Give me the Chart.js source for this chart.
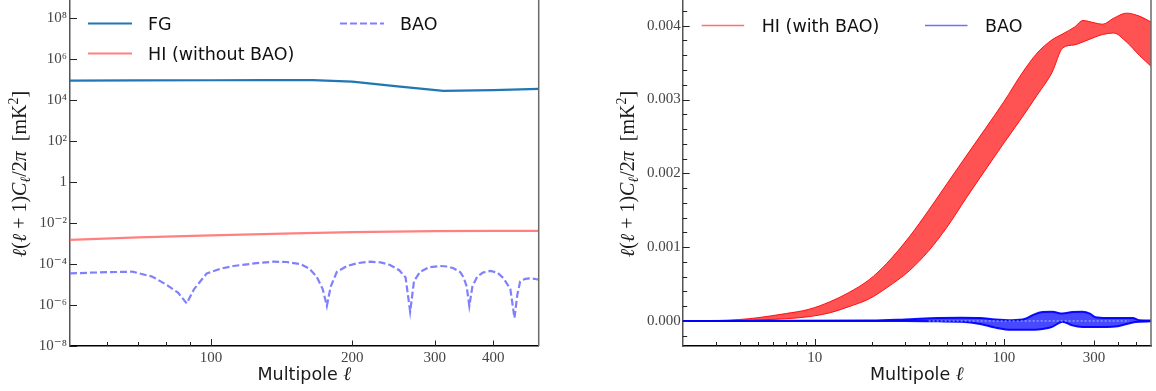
<!DOCTYPE html>
<html lang="en">
<head>
<meta charset="UTF-8">
<title>Foreground, HI and BAO angular power spectra</title>
<style>
  body { margin: 0; background: #fff; overflow: hidden; }
  canvas { position: absolute; top: 0; }
  #left { left: 0; }
  #right { left: 580px; }
</style>
</head>
<body>
<canvas id="left" width="560" height="391"></canvas>
<canvas id="right" width="576" height="391"></canvas>

<script src="https://cdn.jsdelivr.net/npm/chart.js"></script>
<script>
// ---- left panel: spectra on log-log axes ----
const fgEll  = [50, 70, 100, 130, 165, 200, 250, 313, 400, 500];
const fgVals = [8.8e4, 9.0e4, 9.2e4, 9.3e4, 9.4e4, 7.8e4, 4.6e4, 2.8e4, 3.0e4, 3.5e4];

const hiEll  = [50, 70, 100, 150, 200, 300, 400, 500];
const hiVals = [1.5e-3, 2.0e-3, 2.5e-3, 3.1e-3, 3.6e-3, 4.0e-3, 4.1e-3, 4.1e-3];

const baoEll = [50, 60, 68, 75, 80.4, 85, 88.7, 92, 97.9, 105, 111.6, 125, 135.8, 145, 155, 162, 168, 173,
  176.6, 180, 185.5, 195, 205, 218.5, 230, 240.9, 252, 260, 265.9, 271, 279.4, 292, 308, 320, 329, 340,
  345.8, 351, 355.6, 361, 369.6, 380, 394.4, 408, 420.8, 435, 443.9, 450, 456.5, 468, 479, 490, 500];
const baoVals = [3.5e-5, 4.0e-5, 4.2e-5, 2.4e-5, 9.5e-6, 4e-6, 1.2e-6, 6e-6, 3.5e-5, 6e-5, 8e-5, 1.1e-4, 1.3e-4,
  1.25e-4, 1.0e-4, 6e-5, 2.4e-5, 6e-6, 9e-7, 8e-6, 4.2e-5, 8e-5, 1.1e-4, 1.3e-4, 1.2e-4, 9e-5, 5e-5, 2.2e-5,
  4.7e-7, 1.5e-5, 4.2e-5, 7e-5, 8e-5, 7.5e-5, 6.2e-5, 4e-5, 2.2e-5, 8e-6, 9e-7, 8e-6, 2.4e-5, 3.8e-5, 4.6e-5,
  3.8e-5, 2e-5, 6e-6, 2.3e-7, 3e-6, 1.4e-5, 1.9e-5, 2e-5, 1.9e-5, 1.7e-5];

const leftYTicks  = [1e-8, 1e-6, 1e-4, 1e-2, 1, 1e2, 1e4, 1e6, 1e8];
const leftYLabels = ['10⁻⁸', '10⁻⁶', '10⁻⁴', '10⁻²', '1', '10²', '10⁴', '10⁶', '10⁸'];
const leftXTicks  = [100, 200, 300, 400];
const leftXLabels = ['100', '200', '300', '400'];
const leftXMinor  = [60, 70, 80, 90];

// ---- right panel: bands of spectra, linear y ----
const redEll   = [2, 3, 4, 5, 7, 9.3, 12, 15, 19.4, 24, 31.6, 40, 50, 63, 80, 100, 125, 150, 180, 205,
  236, 262, 300, 333, 380, 445, 520, 600];
const redUpper = [0, 0.000005, 0.00002, 0.000045, 0.0001, 0.000158, 0.00026, 0.00038, 0.00056, 0.00078,
  0.00114, 0.0015, 0.00186, 0.00223, 0.00261, 0.00297, 0.00336, 0.00363, 0.00381, 0.00389, 0.00398,
  0.00407, 0.00404, 0.00402, 0.0041, 0.00417, 0.00413, 0.00405];
const redLower = [0, 0, 0.000005, 0.000014, 0.00003, 0.000058, 0.00011, 0.00019, 0.0003, 0.00045,
  0.00068, 0.00095, 0.00127, 0.00166, 0.00205, 0.00241, 0.00276, 0.00306, 0.00337, 0.0037, 0.00374,
  0.00378, 0.00384, 0.00388, 0.0039, 0.00378, 0.0036, 0.00345];

const blueEll   = [2, 20, 30, 45, 60, 75, 90, 110, 130, 145, 160, 180, 204, 230, 260, 285, 305, 350, 400,
  480, 520, 600];
const blueUpper = [0, 0.000005, 0.00002, 0.00004, 0.000045, 0.00004, 0.00002, 0.00001, 0.00003, 0.00009,
  0.00012, 0.000125, 0.0001, 0.00012, 0.000125, 0.0001, 0.00005, 0.00004, 0.00004, 0.00004, 0.00001, 0.000005];
const blueLower = [0, 0, 0, -0.000005, -0.00001, -0.00004, -0.00009, -0.00012, -0.00012, -0.00012,
  -0.00011, -0.00008, -0.00001, -0.00006, -0.00008, -0.00008, -0.00008, -0.00008, -0.00007, -0.00002,
  -0.00001, -0.000005];

const zeroEll  = [40, 460];
const zeroVals = [0, 0];

const rightXTicks  = [10, 100, 300];
const rightXLabels = ['10', '100', '300'];
const rightXMinor  = [3, 4, 5, 6, 7, 8, 9, 20, 30, 40, 50, 60, 70, 80, 90, 200, 400, 500];
const rightYTicks  = [0, 0.001, 0.002, 0.003, 0.004];
const rightYLabels = ['0.000', '0.001', '0.002', '0.003', '0.004'];
const rightYMinor  = [-0.0002, 0.0002, 0.0004, 0.0006, 0.0008, 0.0012, 0.0014, 0.0016, 0.0018,
  0.0022, 0.0024, 0.0026, 0.0028, 0.0032, 0.0034, 0.0036, 0.0038, 0.0042];

const SERIF = '"Liberation Serif", "DejaVu Serif", serif';
const SANS = '"DejaVu Sans", sans-serif';

const pts = (xs, ys) => xs.map((x, i) => ({ x: x, y: ys[i] }));

// draws a run of text pieces (mixed fonts, sub/superscripts) centred on (cx, cy)
function drawRuns(ctx, runs, cx, cy, vertical) {
  ctx.save();
  ctx.translate(cx, cy);
  if (vertical) ctx.rotate(-Math.PI / 2);
  let total = 0;
  for (const r of runs) { ctx.font = r.f; r.w = ctx.measureText(r.t).width; total += r.w; }
  let x = -total / 2;
  ctx.fillStyle = '#1a1a1a';
  ctx.textBaseline = 'alphabetic';
  for (const r of runs) { ctx.font = r.f; ctx.fillText(r.t, x, r.dy || 0); x += r.w; }
  ctx.restore();
}

const xTitleRuns = [
  { t: 'Multipole ', f: '17.5px ' + SANS },
  { t: 'ℓ', f: 'italic 19px ' + SERIF }
];
const yTitleRuns = [
  { t: 'ℓ', f: 'italic 20px ' + SERIF },
  { t: '(', f: '20px ' + SERIF },
  { t: 'ℓ', f: 'italic 20px ' + SERIF },
  { t: ' + 1)', f: '20px ' + SERIF },
  { t: 'C', f: 'italic 20px ' + SERIF },
  { t: 'ℓ', f: 'italic 14px ' + SERIF, dy: 4 },
  { t: '/2', f: '20px ' + SERIF },
  { t: 'π', f: 'italic 20px ' + SERIF },
  { t: '  [mK', f: '20px ' + SERIF },
  { t: '2', f: '14px ' + SERIF, dy: -8 },
  { t: ']', f: '20px ' + SERIF }
];

// inward tick marks, right spine and axis titles
function makeDecor(xMarks, yMarks, xTitleY, yTitleX) {
  return {
    id: 'axisDecor',
    afterDraw(chart) {
      const { ctx, chartArea: a, scales } = chart;
      ctx.save();
      ctx.strokeStyle = '#222';
      ctx.lineWidth = 1;
      ctx.beginPath();
      for (const [vals, len] of xMarks) for (const v of vals) {
        const px = Math.round(scales.x.getPixelForValue(v)) + 0.5;
        ctx.moveTo(px, a.bottom);
        ctx.lineTo(px, a.bottom - len);
      }
      for (const [vals, len] of yMarks) for (const v of vals) {
        const py = Math.round(scales.y.getPixelForValue(v)) + 0.5;
        ctx.moveTo(a.left, py);
        ctx.lineTo(a.left + len, py);
      }
      ctx.stroke();
      ctx.strokeStyle = '#6a6a6a';
      ctx.lineWidth = 1.5;
      ctx.beginPath();
      ctx.moveTo(a.right, a.top);
      ctx.lineTo(a.right, a.bottom);
      ctx.stroke();
      ctx.restore();
      drawRuns(ctx, xTitleRuns, (a.left + a.right) / 2, xTitleY, false);
      drawRuns(ctx, yTitleRuns, yTitleX, (a.top + a.bottom) / 2 + 1, true);
    }
  };
}

// legend entries placed at fixed spots inside the plot
function makeLegend(items, sample, gap) {
  return {
    id: 'panelLegend',
    afterDraw(chart) {
      const ctx = chart.ctx;
      ctx.save();
      for (const it of items) {
        const ds = chart.data.datasets[it.index];
        ctx.strokeStyle = it.color || ds.borderColor;
        ctx.lineWidth = it.width || ds.borderWidth;
        ctx.setLineDash(ds.borderDash || []);
        ctx.beginPath();
        ctx.moveTo(it.x, it.y);
        ctx.lineTo(it.x + sample, it.y);
        ctx.stroke();
        ctx.setLineDash([]);
        ctx.font = '17.5px ' + SANS;
        ctx.fillStyle = '#111';
        ctx.textBaseline = 'alphabetic';
        ctx.fillText(ds.label, it.x + sample + gap, it.y + 6.5);
      }
      ctx.restore();
    }
  };
}

function axis(type, min, max, ticks, labels, fitKey, fitSize, borderColor, pad) {
  return {
    type: type, min: min, max: max, bounds: 'data',
    afterBuildTicks: s => { s.ticks = ticks.map(v => ({ value: v })); },
    afterFit: s => {
      s[fitKey] = fitSize;
      s.paddingTop = 0; s.paddingBottom = 0; s.paddingLeft = 0; s.paddingRight = 0;
    },
    border: { display: true, color: borderColor, width: 1.5 },
    grid: { drawOnChartArea: false, drawTicks: false },
    ticks: {
      autoSkip: false, maxRotation: 0, padding: pad, color: '#444',
      font: { family: SERIF, size: 15 },
      callback: (v, i) => labels[i]
    }
  };
}

const common = {
  responsive: false,
  animation: false,
  devicePixelRatio: 1,
  elements: { point: { radius: 0 } },
  events: []
};

new Chart(document.getElementById('left'), {
  type: 'line',
  data: {
    datasets: [
      { label: 'FG', data: pts(fgEll, fgVals), borderColor: '#1f77b4', borderWidth: 2.2, tension: 0 },
      { label: 'HI (without BAO)', data: pts(hiEll, hiVals), borderColor: '#ff8080', borderWidth: 2.2, tension: 0 },
      { label: 'BAO', data: pts(baoEll, baoVals), borderColor: '#8080ff', borderWidth: 2.2,
        borderDash: [7, 3], tension: 0 }
    ]
  },
  options: Object.assign({}, common, {
    layout: { padding: { left: 0, right: 21.3, top: 0, bottom: 0 } },
    scales: {
      x: axis('logarithmic', 50, 500, leftXTicks, leftXLabels, 'height', 45, '#000', 3),
      y: axis('logarithmic', 1e-8, 7.55e8, leftYTicks, leftYLabels, 'width', 70, '#555', 3)
    },
    plugins: { legend: { display: false }, tooltip: { enabled: false } }
  }),
  plugins: [
    makeDecor([[[100], 7], [[200, 300, 400], 5.5], [leftXMinor, 4]], [[leftYTicks, 7]], 380, 26),
    makeLegend([{ index: 0, x: 88, y: 23.5 }, { index: 1, x: 88, y: 53.5 }, { index: 2, x: 340, y: 23.5 }], 44, 16)
  ]
});

new Chart(document.getElementById('right'), {
  type: 'line',
  data: {
    datasets: [
      { label: 'HI (with BAO)', data: pts(redEll, redUpper), borderColor: 'rgba(255,0,0,0.9)',
        borderWidth: 1, cubicInterpolationMode: 'monotone', fill: false, order: 2 },
      { label: 'HI lower', data: pts(redEll, redLower), borderColor: 'rgba(255,0,0,0.9)',
        borderWidth: 1, cubicInterpolationMode: 'monotone', fill: '-1',
        backgroundColor: 'rgba(255,45,45,0.82)', order: 2 },
      { label: 'BAO', data: pts(blueEll, blueUpper), borderColor: 'rgba(0,0,255,0.95)',
        borderWidth: 2, cubicInterpolationMode: 'monotone', fill: false, order: 1 },
      { label: 'BAO lower', data: pts(blueEll, blueLower), borderColor: 'rgba(0,0,255,0.95)',
        borderWidth: 2, cubicInterpolationMode: 'monotone', fill: '-1',
        backgroundColor: 'rgba(20,20,255,0.78)', order: 1 },
      { label: 'zero', data: pts(zeroEll, zeroVals), borderColor: 'rgba(170,215,240,0.9)',
        borderWidth: 1, borderDash: [2, 2], fill: false, order: 0 }
    ]
  },
  options: Object.assign({}, common, {
    layout: { padding: { left: 0, right: 5, top: 0, bottom: 0 } },
    scales: {
      x: axis('logarithmic', 2, 600, rightXTicks, rightXLabels, 'height', 45, '#000', 3),
      y: axis('linear', -0.000339, 0.004348, rightYTicks, rightYLabels, 'width', 102.7, '#555', 2)
    },
    plugins: { legend: { display: false }, tooltip: { enabled: false } }
  }),
  plugins: [
    makeDecor([[[10, 100], 7], [[300], 5.5], [rightXMinor, 4]], [[rightYTicks, 7], [rightYMinor, 4.5]], 380, 54),
    makeLegend([{ index: 0, x: 121.7, y: 25.5, color: '#ff7070', width: 1.3 },
                { index: 2, x: 345, y: 25.5, color: '#7070ff', width: 1.3 }], 42.5, 17.5)
  ]
});
</script>
</body>
</html>
